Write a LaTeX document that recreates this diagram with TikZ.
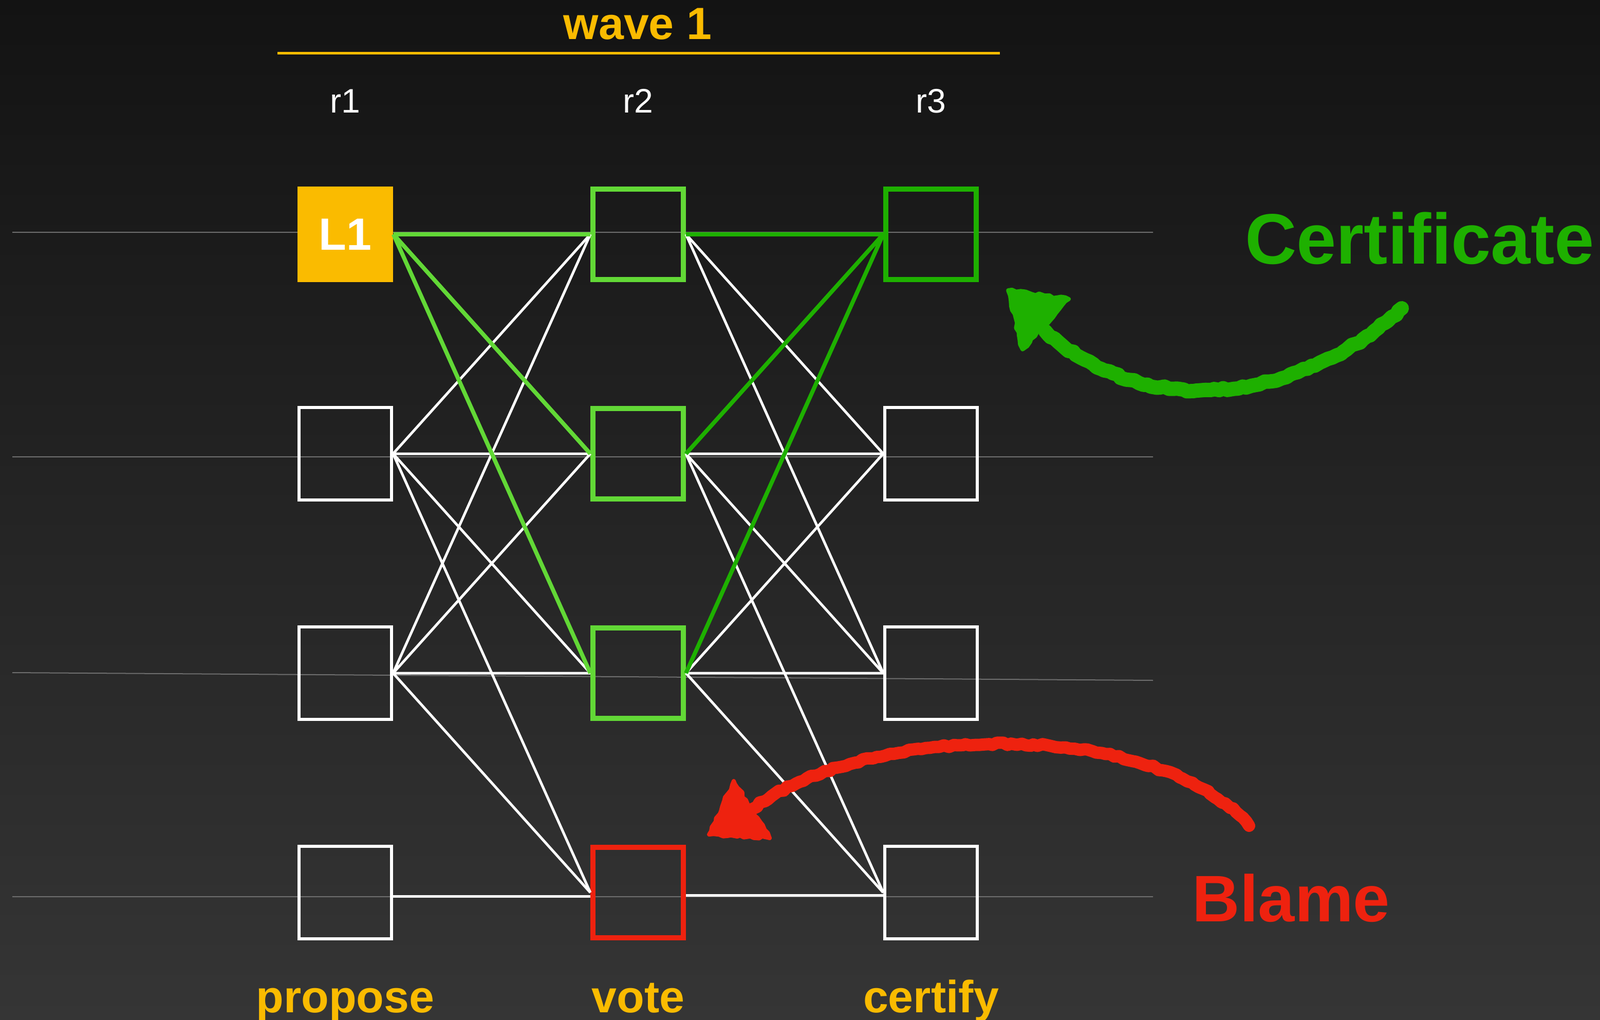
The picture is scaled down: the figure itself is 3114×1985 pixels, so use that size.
\documentclass[tikz,border=0pt]{standalone}
\usepackage{fontspec}
\setmainfont{Liberation Sans}
\usepackage{xcolor}
\usetikzlibrary{calc,decorations.pathmorphing}
\definecolor{bgtop}{HTML}{131313}
\definecolor{bgbot}{HTML}{353535}
\definecolor{wavey}{HTML}{FABB00}
\definecolor{lgreen}{HTML}{62D836}
\definecolor{dgreen}{HTML}{1EB000}
\definecolor{blamer}{HTML}{EE220F}
\definecolor{rowgray}{HTML}{6E6E6E}

\begin{document}
\begin{tikzpicture}[x=0.01cm, y=-0.01cm,
  blk/.style={draw=white, line width=0.06cm, minimum size=1.80cm, inner sep=0pt},
  vblk/.style={blk, draw=lgreen, line width=0.1cm, minimum size=1.76cm},
  wire/.style={white, line width=0.05cm},
  lbl/.style={wavey, anchor=base, font=\bfseries\fontsize{25}{30}\selectfont},
  rlbl/.style={white, anchor=base, font=\fontsize{18.8}{22}\selectfont},
  chalk/.style={line width=0.28cm, line cap=round, line join=round, decorate,
    decoration={random steps, segment length=2.5pt, amplitude=.7pt}}]
\shade[top color=bgtop, bottom color=bgbot] (0,0) rectangle (3114,1985);
\useasboundingbox (0,0) rectangle (3114,1985);
\draw[rowgray, line width=0.02cm] (24,452) -- (2244,452) (24,889) -- (2244,889) (24,1309) -- (2244,1324) (24,1745) -- (2244,1745);
\node[lbl] (w) at (1241,77) {wave 1};
\draw[wavey, line width=0.05cm] (540,104) -- (1946,104);
\node[rlbl] (r1) at (672,220) {r1};
\node[rlbl] (r2) at (1242,220) {r2};
\node[rlbl] (r3) at (1812,220) {r3};
\node[fill=wavey, minimum size=1.86cm, inner sep=0pt, text=white, font=\bfseries\fontsize{25}{30}\selectfont] (a1) at (672,456) {L1};
\node[blk] (a2) at (672,883) {};
\node[blk] (a3) at (672,1310) {};
\node[blk] (a4) at (672,1737) {};
\node[vblk] (b1) at (1242,456) {};
\node[vblk] (b2) at (1242,883) {};
\node[vblk] (b3) at (1242,1310) {};
\node[vblk, draw=blamer] (b4) at (1242,1737) {};
\node[vblk, draw=dgreen] (c1) at (1812,456) {};
\node[blk] (c2) at (1812,883) {};
\node[blk] (c3) at (1812,1310) {};
\node[blk] (c4) at (1812,1737) {};
\draw[wire] (a2.east) -- (b1.west) (a2.east) -- (b2.west) (a2.east) -- (b3.west) (a2.east) -- (b4.west);
\draw[wire] (a3.east) -- (b1.west) (a3.east) -- (b2.west) (a3.east) -- (b3.west) (a3.east) -- (b4.west);
\draw[wire] ($(a4.east)+(0,7)$) -- ($(b4.west)+(0,7)$);
\draw[wire] (b1.east) -- (c2.west) (b1.east) -- (c3.west);
\draw[wire] (b2.east) -- (c2.west) (b2.east) -- (c3.west) (b2.east) -- (c4.west);
\draw[wire] (b3.east) -- (c2.west) (b3.east) -- (c3.west) (b3.east) -- (c4.west);
\draw[wire] ($(b4.east)+(0,5)$) -- ($(c4.west)+(0,5)$);
\draw[lgreen, line width=0.08cm] (a1.east) -- (b1.west) (a1.east) -- (b2.west) (a1.east) -- (b3.west);
\draw[dgreen, line width=0.08cm] (b1.east) -- (c1.west) (b2.east) -- (c1.west) (b3.east) -- (c1.west);
\node[lbl] (p) at (672,1970) {propose};
\node[lbl] (v) at (1242,1970) {vote};
\node[lbl] (cf) at (1812,1970) {certify};
\node[dgreen, anchor=base, font=\bfseries\fontsize{39.5}{46}\selectfont] (cert) at (2763,513) {Certificate};
\node[blamer, anchor=base, font=\bfseries\fontsize{36.4}{42}\selectfont] (bl) at (2513,1793) {Blame};
\coordinate (gt) at (2728,600);
\coordinate (gh) at (2035,645);
\draw[chalk, dgreen] (gt) .. controls (2560,760) and (2250,840) .. (gh);
\filldraw[chalk, dgreen, line width=0.08cm] (1962,565) -- (2080,582) -- (1990,680) -- cycle;
\coordinate (rt) at (2431,1607);
\coordinate (rh) at (1465,1574);
\draw[chalk, blamer, line width=0.24cm] (rt) .. controls (2250,1400) and (1700,1400) .. (rh);
\filldraw[chalk, blamer, line width=0.08cm] (1428,1520) -- (1380,1624) -- (1498,1631) -- cycle;
\end{tikzpicture}
\end{document}
